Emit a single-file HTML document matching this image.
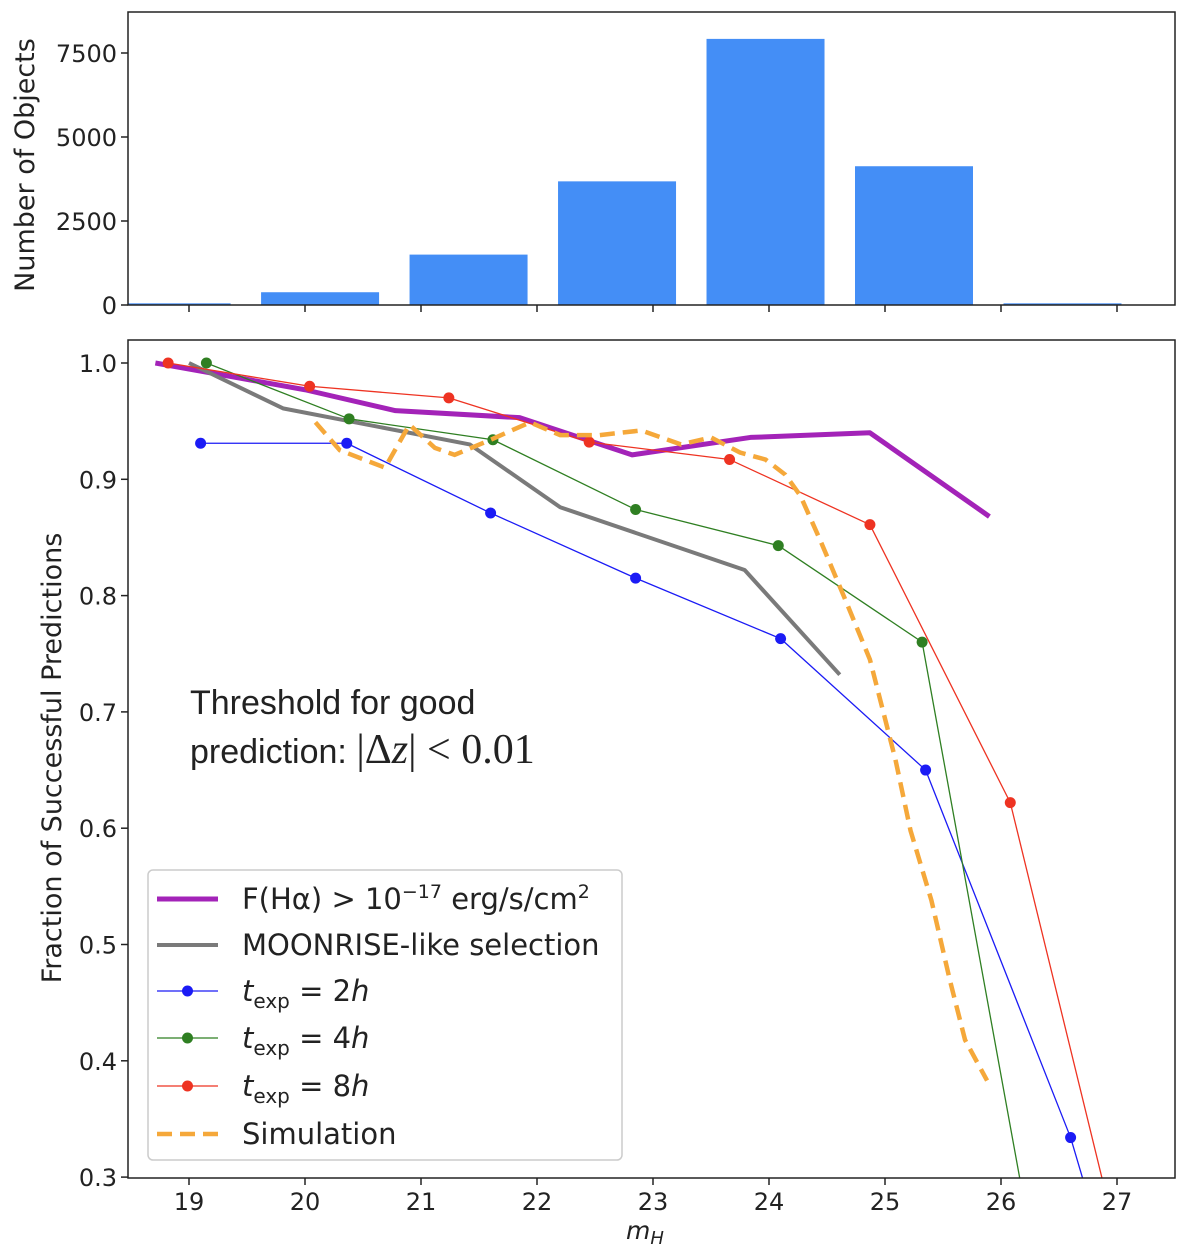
<!DOCTYPE html>
<html><head><meta charset="utf-8"><style>
body{margin:0;background:#fff;overflow:hidden;}
svg{display:block;}
svg text{font-family:"DejaVu Sans","Liberation Sans",sans-serif;fill:#222;}
</style></head><body>
<svg id="chart" width="1200" height="1259" viewBox="0 0 1200 1259">
<defs>
<clipPath id="ctop"><rect x="128" y="12" width="1047" height="293"/></clipPath>
<clipPath id="cbot"><rect x="128" y="340" width="1047" height="838"/></clipPath>
</defs>
<g id="topPanel"></g>
<g id="botPanel"></g>
</svg>
<script>
const binCenters=[18.85,20.13,21.41,22.69,23.97,25.25,26.53];
const binCounts=[50,380,1500,3680,7920,4130,50];
const histTicks=[0,2500,5000,7500];
const xTicks=[19,20,21,22,23,24,25,26,27];
const yTicks=[0.3,0.4,0.5,0.6,0.7,0.8,0.9,1.0];
const magX=[18.71,20.0,20.78,21.85,22.82,23.84,24.87,25.9];
const magY=[1.0,0.977,0.959,0.953,0.921,0.936,0.94,0.868];
const grayX=[19.0,19.81,21.42,22.2,23.79,24.61];
const grayY=[1.0,0.961,0.930,0.876,0.822,0.732];
const blueX=[19.1,20.36,21.6,22.85,24.1,25.35,26.6,26.76];
const blueY=[0.931,0.931,0.871,0.815,0.763,0.65,0.334,0.28];
const greenX=[19.15,20.38,21.62,22.85,24.08,25.32,26.2];
const greenY=[1.0,0.952,0.934,0.874,0.843,0.76,0.278];
const redX=[18.82,20.04,21.24,22.45,23.66,24.87,26.08,26.92];
const redY=[1.0,0.98,0.97,0.932,0.917,0.861,0.622,0.279];
const simX=[20.09,20.3,20.69,20.9,21.12,21.29,21.6,21.94,22.2,22.54,22.9,23.24,23.5,23.75,23.97,24.14,24.27,24.44,24.66,24.87,25.09,25.22,25.4,25.56,25.69,25.88];
const simY=[0.949,0.925,0.91,0.947,0.927,0.921,0.934,0.949,0.938,0.938,0.942,0.93,0.936,0.923,0.917,0.904,0.886,0.848,0.796,0.745,0.659,0.598,0.538,0.469,0.418,0.383];

const NS="http://www.w3.org/2000/svg";
const X=v=>189+(v-19)*116;
const YB=v=>363+(1-v)*1163;
const YT=v=>305-v*0.0336;
function mk(p,t,a){const e=document.createElementNS(NS,t);for(const k in a)e.setAttribute(k,a[k]);p.appendChild(e);return e;}
const topG=document.getElementById('topPanel'),botG=document.getElementById('botPanel');

const bg=mk(topG,'g',{'clip-path':'url(#ctop)'});
binCenters.forEach((c,i)=>{
 const r=mk(bg,'rect',{x:X(c)-59,y:YT(binCounts[i]),width:118,height:YT(0)-YT(binCounts[i]),fill:'#448ef6'});
 
 
});
const tf=mk(topG,'rect',{x:128,y:12,width:1047,height:293,fill:'none',stroke:'#222','stroke-width':1.5});


histTicks.forEach(t=>{
 mk(topG,'line',{x1:121,x2:128,y1:YT(t),y2:YT(t),stroke:'#222','stroke-width':1.5});
 const tx=mk(topG,'text',{x:117,y:YT(t)+9,'text-anchor':'end','font-size':24});tx.textContent=t;
 
 
});
xTicks.forEach(t=>mk(topG,'line',{x1:X(t),x2:X(t),y1:305,y2:312,stroke:'#222','stroke-width':1.5}));
const yt1=mk(topG,'text',{x:0,y:0,transform:'translate(34,165) rotate(-90)','text-anchor':'middle','font-size':27});
yt1.textContent='Number of Objects';



const lg=mk(botG,'g',{'clip-path':'url(#cbot)'});
function line(xs,ys,color,w,name,extra){
 const pts=xs.map((x,i)=>X(x)+','+YB(ys[i])).join(' ');
 const a={points:pts,fill:'none',stroke:color,'stroke-width':w,'stroke-linejoin':'round'};
 Object.assign(a,extra||{});
 const p=mk(lg,'polyline',a);
 
 
}
function markers(xs,ys,color,name){
 xs.forEach((x,i)=>{
  const c=mk(lg,'circle',{cx:X(x),cy:YB(ys[i]),r:5.5,fill:color});
  
  
 });
}
line(magX,magY,'#a323b8',5,'flux-limit-line');
line(grayX,grayY,'#7a7a7a',4,'moonrise-selection-line');
line(blueX,blueY,'#1b1bf5',1.3,'texp-2h-line');markers(blueX,blueY,'#1b1bf5','texp-2h-point');
line(greenX,greenY,'#2f7f22',1.3,'texp-4h-line');markers(greenX,greenY,'#2f7f22','texp-4h-point');
line(redX,redY,'#ee3322',1.3,'texp-8h-line');markers(redX,redY,'#ee3322','texp-8h-point');
line(simX,simY,'#f5a83a',4.5,'simulation-line',{'stroke-dasharray':'15 8','stroke-linejoin':'miter'});

const bf=mk(botG,'rect',{x:128,y:340,width:1047,height:838,fill:'none',stroke:'#222','stroke-width':1.5});


yTicks.forEach(t=>{
 mk(botG,'line',{x1:121,x2:128,y1:YB(t),y2:YB(t),stroke:'#222','stroke-width':1.5});
 const tx=mk(botG,'text',{x:117,y:YB(t)+9,'text-anchor':'end','font-size':24});tx.textContent=t.toFixed(1);
 
 
});
xTicks.forEach(t=>{
 mk(botG,'line',{x1:X(t),x2:X(t),y1:1178,y2:1185,stroke:'#222','stroke-width':1.5});
 const tx=mk(botG,'text',{x:X(t),y:1210,'text-anchor':'middle','font-size':24});tx.textContent=t;
 
 
});
const yt2=mk(botG,'text',{x:0,y:0,transform:'translate(61,758) rotate(-90)','text-anchor':'middle','font-size':27});
yt2.textContent='Fraction of Successful Predictions';


const xt=mk(botG,'text',{x:645,y:1239,'text-anchor':'middle','font-size':25,'font-style':'italic'});
xt.innerHTML='m<tspan font-size="18" dy="5">H</tspan>';



const a1=mk(botG,'text',{x:190,y:714,'font-size':34,style:'font-family:"Liberation Sans",sans-serif'});a1.textContent='Threshold for good';


const a2=mk(botG,'text',{x:190,y:763,'font-size':34,style:'font-family:"Liberation Sans",sans-serif'});
a2.innerHTML='prediction: <tspan style="font-family:\'Liberation Serif\',serif" font-size="42">|Δ<tspan font-style="italic">z</tspan>| &lt; 0.01</tspan>';



const L=mk(botG,'g',{});


mk(L,'rect',{x:148,y:870,width:474,height:290,rx:5,fill:'#fff','fill-opacity':0.85,stroke:'#ccc','stroke-width':1.5});
const ents=[
 ['#a323b8',5,null,false,'F(Hα) &gt; 10<tspan font-size="19" dy="-11">−17</tspan><tspan dy="11"> erg/s/cm</tspan><tspan font-size="19" dy="-11">2</tspan>'],
 ['#7a7a7a',4,null,false,'MOONRISE-like selection'],
 ['#1b1bf5',1.3,null,true,'<tspan font-style="italic">t</tspan><tspan font-size="20" dy="7">exp</tspan><tspan dy="-7"> = 2</tspan><tspan font-style="italic">h</tspan>'],
 ['#2f7f22',1.3,null,true,'<tspan font-style="italic">t</tspan><tspan font-size="20" dy="7">exp</tspan><tspan dy="-7"> = 4</tspan><tspan font-style="italic">h</tspan>'],
 ['#ee3322',1.3,null,true,'<tspan font-style="italic">t</tspan><tspan font-size="20" dy="7">exp</tspan><tspan dy="-7"> = 8</tspan><tspan font-style="italic">h</tspan>'],
 ['#f5a83a',4.5,'15 8',false,'Simulation']
];
const ly=[899,945,991,1038,1086,1134];
ents.forEach((e,i)=>{
 const g=mk(L,'g',{});
 
 
 const a={x1:157,x2:218,y1:ly[i],y2:ly[i],stroke:e[0],'stroke-width':e[1]};
 if(e[2])a['stroke-dasharray']=e[2];
 mk(g,'line',a);
 if(e[3])mk(g,'circle',{cx:187.5,cy:ly[i],r:5.5,fill:e[0]});
 const t=mk(g,'text',{x:242,y:ly[i]+10,'font-size':29});t.innerHTML=e[4];
});
</script>
</body></html>
